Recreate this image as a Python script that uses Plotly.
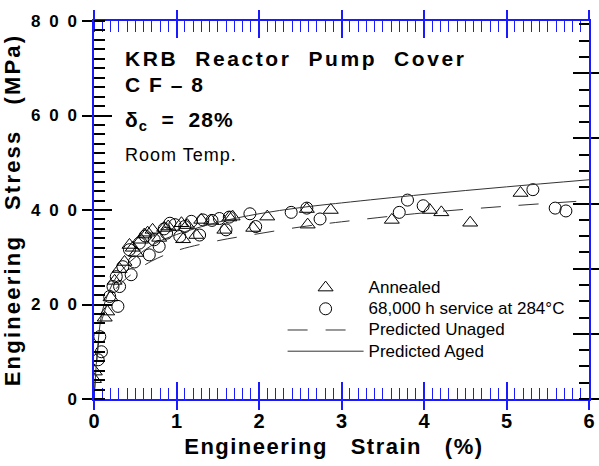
import plotly.graph_objects as go

# Tensile test points: engineering strain (%) and engineering stress (MPa)
annealed_strain = [0.00, 0.01, 0.13, 0.16, 0.20, 0.25, 0.31, 0.37, 0.43, 0.47, 0.51, 0.57,
                   0.61, 0.65, 0.71, 0.79, 0.85, 0.90, 1.06, 1.08, 1.13, 1.24, 1.30, 1.42,
                   1.58, 1.64, 1.68, 1.93, 2.10, 2.58, 2.59, 2.87, 3.61, 4.07, 4.21, 4.56, 5.17]
annealed_stress = [42, 58, 172, 185, 215, 250, 275, 290, 326, 320, 309, 337,
                   348, 352, 358, 341, 362, 365, 372, 338, 368, 347, 379, 377,
                   358, 384, 386, 362, 386, 402, 369, 400, 379, 400, 395, 373, 436]

aged_strain = [0.05, 0.09, 0.07, 0.19, 0.23, 0.29, 0.31, 0.27, 0.35, 0.45, 0.43, 0.49,
               0.55, 0.62, 0.67, 0.79, 0.73, 0.85, 0.88, 0.92, 0.98, 1.04, 1.10, 1.18,
               1.28, 1.32, 1.43, 1.52, 1.60, 1.64, 1.89, 1.96, 2.39, 2.58, 2.74, 3.70,
               3.80, 3.99, 5.32, 5.59, 5.72]
aged_stress = [83, 100, 132, 217, 238, 196, 238, 259, 280, 263, 316, 290,
               330, 345, 305, 323, 337, 360, 351, 372, 369, 344, 365, 376,
               347, 379, 378, 382, 358, 385, 392, 365, 395, 404, 381, 395,
               421, 409, 443, 404, 398]

# Predicted flow curves
unaged_fit_strain = [0.0, 0.05, 0.1, 0.2, 0.3, 0.5, 0.7, 1.0, 1.5, 2.0, 2.5, 3.0, 4.0, 5.0, 6.0]
unaged_fit_stress = [0, 110, 170, 215, 240, 270, 292, 314, 335, 350, 364, 375, 394, 408, 420]
aged_fit_strain = [0.0, 0.05, 0.1, 0.2, 0.3, 0.5, 0.75, 1.0, 1.5, 2.0, 2.5, 3.0, 4.0, 5.0, 6.0]
aged_fit_stress = [0, 120, 185, 235, 265, 300, 330, 348, 374, 392, 405, 415, 433, 449, 464]

x_tick_vals = [0, 1, 2, 3, 4, 5, 6]
x_tick_text = ["0", "1", "2", "3", "4", "5", "6"]
y_tick_vals = [0, 200, 400, 600, 800]
y_tick_text = ["0", "2 0 0", "4 0 0", "6 0 0", "8 0 0"]

MPA_PER_KSI = 6.894757
BLUE = "#1a1aff"
FONT = "Liberation Sans"


def spaced(text, px):
    return f'<span style="letter-spacing:{px}px">{text}</span>'


def legend_text(text):
    # legend rows are spaced from the small legend font; entries are drawn larger
    return f'<span style="font-size:17px">{text}</span>'


fig = go.Figure()

fig.add_trace(go.Scatter(
    x=annealed_strain, y=annealed_stress, mode="markers", name=legend_text("Annealed"),
    marker=dict(symbol="triangle-up-open", size=13, color="black", line=dict(width=1))))
fig.add_trace(go.Scatter(
    x=aged_strain, y=aged_stress, mode="markers", name=legend_text("68,000 h service at 284°C"),
    marker=dict(symbol="circle-open", size=12, color="black", line=dict(width=1))))
fig.add_trace(go.Scatter(
    x=unaged_fit_strain, y=unaged_fit_stress, mode="lines", name=legend_text("Predicted Unaged"),
    line=dict(color="#333333", width=1, dash="20px,18px", shape="spline")))
fig.add_trace(go.Scatter(
    x=aged_fit_strain, y=aged_fit_stress, mode="lines", name=legend_text("Predicted Aged"),
    line=dict(color="#333333", width=1, shape="spline")))

# Empty traces so the overlay axes carrying the extra tick sets are drawn
for xa, ya in [("x2", "y"), ("x3", "y"), ("x", "y2"), ("x", "y3"), ("x", "y4")]:
    fig.add_trace(go.Scatter(x=[None], y=[None], xaxis=xa, yaxis=ya,
                             showlegend=False, hoverinfo="skip"))

tick_font = dict(family=FONT, size=20, color="black", weight="bold")

fig.update_layout(
    width=599, height=466,
    margin=dict(l=94, r=10, t=21, b=67),
    paper_bgcolor="white", plot_bgcolor="white",
    font=dict(family=FONT, color="black"),
    showlegend=True,
    legend=dict(x=0.381, y=0.336, xanchor="left", yanchor="top",
                bgcolor="rgba(0,0,0,0)", itemwidth=76,
                font=dict(family=FONT, size=14, color="black"),
                tracegroupgap=0),
    # strain axis: labels sit close, blue frame with minor ticks every 0.1 %
    xaxis=dict(
        range=[0, 6], showgrid=False, zeroline=False, automargin=False,
        showline=True, linecolor=BLUE, linewidth=1.5, mirror="ticks",
        ticks="outside", ticklen=3, tickwidth=1.5, tickcolor=BLUE,
        tickvals=x_tick_vals, ticktext=x_tick_text,
        tickfont=tick_font,
        minor=dict(dtick=0.1, ticks="inside", ticklen=11, tickwidth=1.3, tickcolor=BLUE),
        title=dict(text=spaced("Engineering\u00a0\u00a0 Strain\u00a0\u00a0 (%)\u00a0\u00a0", 1.5),
                   font=dict(family=FONT, size=22, weight="bold"), standoff=8),
    ),
    xaxis2=dict(
        overlaying="x", matches="x", range=[0, 6], showgrid=False, zeroline=False,
        automargin=False, showline=False, mirror="ticks", ticks="inside", ticklen=17,
        tickwidth=1.5, tickcolor=BLUE, tickvals=x_tick_vals, showticklabels=False,
    ),
    xaxis3=dict(
        overlaying="x", matches="x", range=[0, 6], showgrid=False, zeroline=False,
        automargin=False, showline=False, mirror="ticks", ticks="outside", ticklen=10,
        tickwidth=1.5, tickcolor=BLUE, tickvals=x_tick_vals, showticklabels=False,
    ),
    yaxis=dict(
        range=[0, 800], showgrid=False, zeroline=False, automargin=False,
        showline=True, linecolor=BLUE, linewidth=1.5,
        ticks="outside", ticklen=10, tickwidth=2, tickcolor="black",
        tickvals=y_tick_vals, ticktext=[spaced(t, 2) for t in y_tick_text],
        tickfont=dict(family=FONT, size=17, color="black", weight="bold"),
        minor=dict(dtick=20, ticks="inside", ticklen=11, tickwidth=1.8, tickcolor="black"),
        title=dict(text=spaced("Engineering\u00a0\u00a0 Stress\u00a0\u00a0 (MPa)", 2.2),
                   font=dict(family=FONT, size=22, weight="bold"), standoff=4),
    ),
    # Stress in ksi on the right-hand frame (ticks only)
    yaxis2=dict(
        overlaying="y", side="right", range=[0, 800 / MPA_PER_KSI], automargin=False,
        showgrid=False, zeroline=False, showline=True, linecolor=BLUE, linewidth=1.5,
        ticks="outside", ticklen=10, tickwidth=2, tickcolor="black",
        dtick=20, tick0=0, showticklabels=False,
        minor=dict(dtick=5, ticks="inside", ticklen=10, tickwidth=1.8, tickcolor="black"),
    ),
    yaxis3=dict(
        overlaying="y", side="left", range=[0, 800], showgrid=False, zeroline=False,
        automargin=False, showline=False, ticks="inside", ticklen=18, tickwidth=2,
        tickcolor="black", tickvals=y_tick_vals, showticklabels=False,
    ),
    yaxis4=dict(
        overlaying="y", side="right", range=[0, 800 / MPA_PER_KSI], automargin=False,
        showgrid=False, zeroline=False, showline=False,
        ticks="inside", ticklen=16, tickwidth=2, tickcolor="black",
        dtick=20, tick0=0, showticklabels=False,
    ),
)

label_font = dict(family=FONT, size=21, color="black", weight="bold")
left = 0.058
fig.add_annotation(x=left, y=0.902, xref="paper", yref="paper", xanchor="left", yanchor="middle",
                   text=spaced("KRB\u00a0 Reactor\u00a0 Pump\u00a0 Cover", 2.6), showarrow=False, font=label_font)
fig.add_annotation(x=left, y=0.833, xref="paper", yref="paper", xanchor="left", yanchor="middle",
                   text=spaced("C F – 8", 1.5), showarrow=False, font=label_font)
fig.add_annotation(x=left, y=0.735, xref="paper", yref="paper", xanchor="left", yanchor="middle",
                   text=spaced("δ<sub>c</sub>\u00a0 = \u00a028%", 1), showarrow=False, font=label_font)
fig.add_annotation(x=left, y=0.646, xref="paper", yref="paper", xanchor="left", yanchor="middle",
                   text=spaced("Room Temp.", 1), showarrow=False,
                   font=dict(family=FONT, size=18, color="black"))

fig.write_html("out.html")
